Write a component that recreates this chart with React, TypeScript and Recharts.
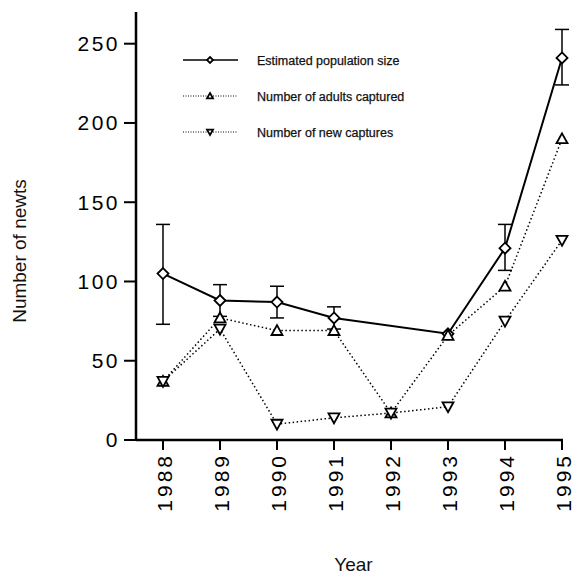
import React from 'react';
import {
  LineChart,
  Line,
  XAxis,
  YAxis,
  ErrorBar,
  Legend,
} from 'recharts';

const years = ['1988', '1989', '1990', '1991', '1992', '1993', '1994', '1995'];
const populationSize = [105, 88, 87, 77, null, 67, 121, 241];
const popErrMinus = [32, 10, 10, 7, null, null, 14, 17];
const popErrPlus = [31, 10, 10, 7, null, null, 15, 18];
const adultsCaptured = [37, 77, 69, 69, 17, 66, 97, 190];
const newCaptures = [37, 70, 10, 14, 17, 21, 75, 126];
const yTicks = [0, 50, 100, 150, 200, 250];

const FONT = '"Liberation Sans", Arial, Helvetica, sans-serif';

const data = years.map((year, i) => ({
  year,
  population: populationSize[i],
  popErr:
    popErrMinus[i] == null ? undefined : [popErrMinus[i], popErrPlus[i]],
  adults: adultsCaptured[i],
  newCaps: newCaptures[i],
}));

function Diamond({ cx, cy, r = 5.5 }: any) {
  return (
    <path
      d={`M${cx},${cy - r}L${cx + r},${cy}L${cx},${cy + r}L${cx - r},${cy}Z`}
      fill="#fff"
      stroke="#000"
      strokeWidth={1.8}
    />
  );
}

function TriUp({ cx, cy, r = 5.5 }: any) {
  return (
    <path
      d={`M${cx},${cy - r}L${cx + r},${cy + r * 0.8}L${cx - r},${cy + r * 0.8}Z`}
      fill="#fff"
      stroke="#000"
      strokeWidth={1.8}
    />
  );
}

function TriDown({ cx, cy, r = 5.5 }: any) {
  return (
    <path
      d={`M${cx},${cy + r}L${cx + r},${cy - r * 0.8}L${cx - r},${cy - r * 0.8}Z`}
      fill="#fff"
      stroke="#000"
      strokeWidth={1.8}
    />
  );
}

const dotOf = (Shape: any) => (props: any) => {
  const { cx, cy, index } = props;
  if (cx == null || cy == null || props.value == null) {
    return <g key={`e-${index}`} />;
  }
  return <Shape key={`d-${index}`} cx={cx} cy={cy} />;
};

function YearTick(props: any) {
  const { x, y, payload } = props;
  return (
    <g transform={`translate(${x + 1},${y + 1}) rotate(-90)`}>
      <text
        x={0}
        y={0}
        dy="0.36em"
        textAnchor="end"
        fontFamily={FONT}
        fontSize={21}
        letterSpacing={3}
        fill="#000"
      >
        {payload.value}
      </text>
    </g>
  );
}

const legendRows = [
  { name: 'Estimated population size', dashed: false, Shape: Diamond },
  { name: 'Number of adults captured', dashed: true, Shape: TriUp },
  { name: 'Number of new captures', dashed: true, Shape: TriDown },
];

function LegendBox() {
  return (
    <svg width={270} height={100}>
      {legendRows.map((row, i) => {
        const y = 18 + i * 36;
        return (
          <g key={row.name}>
            <line
              x1={23}
              x2={78}
              y1={y}
              y2={y}
              stroke="#000"
              strokeWidth={row.dashed ? 1 : 1.5}
              strokeDasharray={row.dashed ? '1 1.5' : undefined}
            />
            <row.Shape cx={50} cy={y} r={3} />
            <text
              x={97}
              y={y + 5}
              fontFamily={FONT}
              fontSize={12.5}
              fill="#111"
              stroke="#111"
              strokeWidth={0.25}
            >
              {row.name}
            </text>
          </g>
        );
      })}
    </svg>
  );
}

export default function App() {
  return (
    <div style={{ position: 'absolute', left: 0, top: 0, background: '#fff' }}>
      <LineChart
        width={574}
        height={577}
        data={data}
        margin={{ top: 12, right: 11, bottom: 0, left: 0 }}
      >
        <XAxis
          dataKey="year"
          height={137}
          padding={{ left: 27, right: 1 }}
          axisLine={{ stroke: '#000', strokeWidth: 2.5 }}
          tickLine={{ stroke: '#000', strokeWidth: 2 }}
          tickSize={10}
          tickMargin={2}
          tick={<YearTick />}
          interval={0}
          label={{
            value: 'Year',
            position: 'insideBottom',
            offset: 6,
            dx: 4,
            style: { fontFamily: FONT, fontSize: 19, fill: '#111' },
          }}
        />
        <YAxis
          width={136}
          domain={[0, 270]}
          ticks={yTicks}
          allowDataOverflow
          axisLine={{ stroke: '#000', strokeWidth: 2.5 }}
          tickLine={{ stroke: '#000', strokeWidth: 2 }}
          tickSize={12}
          tickMargin={4}
          tick={{
            fontFamily: FONT,
            fontSize: 21,
            fill: '#000',
            letterSpacing: 2.5,
          }}
          label={{
            value: 'Number of newts',
            angle: -90,
            position: 'insideLeft',
            offset: 19,
            dy: 25,
            style: {
              fontFamily: FONT,
              fontSize: 19,
              fill: '#111',
              textAnchor: 'middle',
            },
          }}
        />
        <Legend
          layout="horizontal"
          verticalAlign="middle"
          align="center"
          wrapperStyle={{ position: 'absolute', left: 160, top: 42, width: 270 }}
          content={() => <LegendBox />}
        />
        <Line
          dataKey="population"
          name="Estimated population size"
          stroke="#000"
          strokeWidth={2}
          connectNulls
          isAnimationActive={false}
          dot={dotOf(Diamond)}
          activeDot={false}
        >
          <ErrorBar
            dataKey="popErr"
            width={7}
            stroke="#000"
            strokeWidth={1.5}
            direction="y"
          />
        </Line>
        <Line
          dataKey="adults"
          name="Number of adults captured"
          stroke="#000"
          strokeWidth={1.5}
          strokeDasharray="1.5 2.5"
          isAnimationActive={false}
          dot={dotOf(TriUp)}
          activeDot={false}
        />
        <Line
          dataKey="newCaps"
          name="Number of new captures"
          stroke="#000"
          strokeWidth={1.5}
          strokeDasharray="1.5 2.5"
          isAnimationActive={false}
          dot={dotOf(TriDown)}
          activeDot={false}
        />
      </LineChart>
    </div>
  );
}
